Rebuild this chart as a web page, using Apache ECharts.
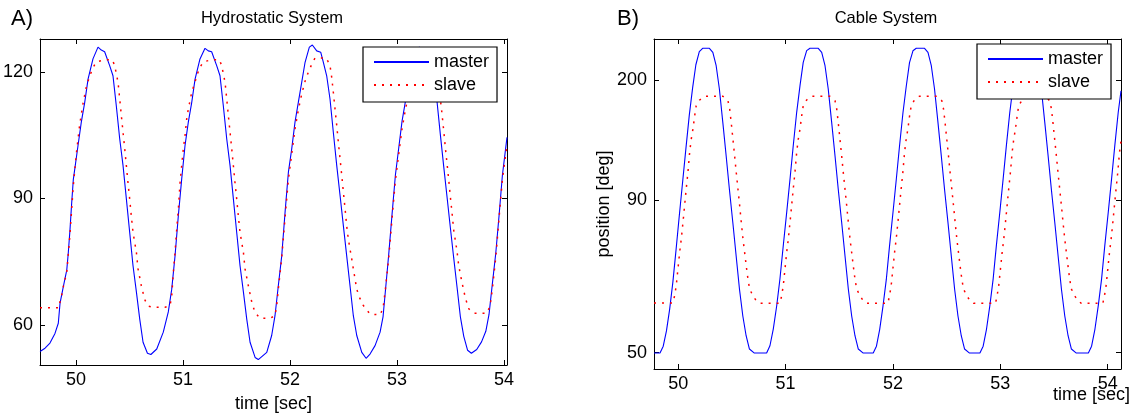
<!DOCTYPE html>
<html>
<head>
<meta charset="utf-8">
<script src="https://cdn.jsdelivr.net/npm/echarts@6.0.0/dist/echarts.min.js"></script>
<style>
html,body{margin:0;padding:0;background:#fff;}
#chart{width:1137px;height:417px;}
</style>
</head>
<body>
<div id="chart"></div>
<script>
// ---------- data ----------
const xTicks = [50, 51, 52, 53, 54];
const yTicksA = [60, 90, 120];
const yLabelsA = ['60', '90', '120'];
const yTicksB = [-50, 90, 200];
const yLabelsB = ['50', '90', '200'];

// Panel A: Hydrostatic System  [time (s), position]
const masterA = [
[49.664,53.7],[49.711,54.5],[49.757,55.7],[49.804,58.0],[49.835,60.4],[49.851,65.1],[49.882,69.1],[49.914,73.0],[49.928,77.0],[49.944,82.5],[49.960,88.9],[49.975,94.4],[50.019,102.5],[50.050,108.1],[50.082,112.8],[50.113,118.3],[50.159,123.1],[50.206,125.9],[50.237,125.2],[50.268,124.8],[50.315,121.5],[50.346,119.1],[50.377,112.0],[50.409,104.1],[50.440,97.8],[50.471,89.9],[50.502,82.0],[50.533,74.1],[50.565,67.8],[50.596,61.4],[50.627,55.9],[50.668,53.3],[50.700,53.0],
[50.755,54.3],[50.816,58.3],[50.863,63.1],[50.895,68.5],[50.926,76.4],[50.957,86.0],[50.988,94.6],[51.019,102.5],[51.050,108.1],[51.082,112.8],[51.113,118.3],[51.159,123.1],[51.206,125.6],[51.237,125.0],[51.268,124.8],[51.315,121.5],[51.346,119.1],[51.377,112.0],[51.409,104.1],[51.440,97.8],[51.471,89.9],[51.502,82.0],[51.533,74.1],[51.565,67.8],[51.596,61.4],[51.627,55.9],[51.674,52.3],[51.704,51.8],
[51.783,53.5],[51.829,57.5],[51.860,62.2],[51.891,69.3],[51.923,76.4],[51.954,86.7],[51.985,96.2],[52.016,101.7],[52.047,108.1],[52.078,112.8],[52.110,117.6],[52.141,122.3],[52.181,125.9],[52.209,126.4],[52.250,125.0],[52.287,124.7],[52.312,122.3],[52.343,119.1],[52.374,113.6],[52.405,105.7],[52.437,97.8],[52.468,90.7],[52.499,83.5],[52.530,76.4],[52.561,69.3],[52.592,62.2],[52.624,57.5],[52.671,53.5],[52.711,52.1],[52.748,53.1],[52.795,55.1],[52.842,58.3],
[52.870,62.0],[52.895,69.0],[52.923,76.8],[52.954,86.3],[52.985,95.5],[53.016,101.9],[53.047,108.3],[53.078,112.9],[53.110,117.8],[53.141,122.0],[53.181,125.3],[53.209,125.9],[53.250,125.0],[53.287,124.5],[53.312,122.0],[53.343,118.8],[53.374,113.0],[53.405,105.2],[53.437,97.5],[53.468,90.3],[53.499,83.0],[53.530,75.9],[53.561,69.0],[53.592,62.0],[53.624,57.3],[53.660,54.0],[53.695,53.3],
[53.745,54.2],[53.790,56.0],[53.830,58.5],[53.860,62.5],[53.890,69.5],[53.923,77.0],[53.954,86.0],[53.985,95.5],[54.016,102.0],[54.028,104.5]
];
const slaveA = [
[49.664,64.1],[49.845,64.1],[49.851,65.5],[49.867,67.1],[49.882,69.1],[49.914,72.5],[49.944,81.5],[49.975,93.0],[50.003,100.5],[50.035,107.5],[50.066,112.5],[50.097,116.5],[50.128,119.0],[50.159,121.0],[50.190,122.4],[50.268,122.9],[50.340,122.9],[50.362,121.5],[50.393,117.6],[50.409,113.6],[50.424,109.7],[50.440,105.7],[50.456,101.7],[50.471,97.8],[50.486,93.8],[50.502,89.9],[50.517,85.9],[50.533,82.0],[50.565,77.2],[50.580,73.3],[50.611,69.3],[50.643,66.0],[50.673,64.5],[50.720,64.2],[50.832,64.2],[50.879,64.6],
[50.895,66.9],[50.910,72.5],[50.926,77.2],[50.942,82.8],[50.957,87.5],[50.973,93.8],[50.988,97.8],[51.003,101.7],[51.019,104.9],[51.035,108.9],[51.050,111.2],[51.082,115.2],[51.113,117.6],[51.128,119.1],[51.159,121.1],[51.190,122.4],[51.268,122.9],[51.340,122.9],[51.362,121.5],[51.393,117.6],[51.409,113.6],[51.424,109.7],[51.440,105.7],[51.456,101.7],[51.471,97.8],[51.486,93.8],[51.502,89.9],[51.517,85.9],[51.533,82.0],[51.565,77.2],[51.580,73.3],[51.611,69.3],[51.643,65.4],[51.673,63.0],[51.720,61.6],[51.813,61.6],[51.860,62.2],[51.876,64.6],
[51.891,68.5],[51.923,76.0],[51.954,85.5],[51.985,94.5],[52.016,100.5],[52.047,106.5],[52.078,111.0],[52.110,114.8],[52.141,117.8],[52.172,120.0],[52.203,121.8],[52.234,123.3],[52.340,123.3],[52.374,121.5],[52.390,118.7],[52.405,115.2],[52.421,111.2],[52.437,107.3],[52.452,103.3],[52.468,99.4],[52.484,95.4],[52.499,91.5],[52.515,87.5],[52.530,83.5],[52.545,80.4],[52.561,78.0],[52.577,75.7],[52.592,73.3],[52.608,70.9],[52.624,68.5],[52.648,66.6],[52.686,64.6],[52.748,62.6],[52.842,62.4],[52.870,64.0],
[52.891,68.3],[52.923,76.0],[52.954,85.3],[52.985,94.3],[53.016,100.5],[53.047,106.5],[53.078,111.0],[53.110,114.8],[53.141,117.8],[53.172,120.0],[53.203,121.8],[53.234,122.8],[53.340,122.8],[53.370,121.0],[53.390,117.6],[53.405,113.6],[53.421,110.0],[53.437,106.0],[53.452,102.0],[53.468,98.2],[53.484,94.3],[53.499,90.3],[53.515,86.4],[53.530,82.5],[53.561,77.5],[53.577,74.0],[53.608,70.0],[53.640,66.3],[53.672,63.8],[53.720,62.8],[53.840,62.8],[53.870,64.5],
[53.891,68.5],[53.923,76.0],[53.954,85.5],[53.985,94.5],[54.016,100.5],[54.028,102.5]
];

// Panel B: Cable System  [time (s), position (deg)]
const masterB = [
[49.774,-50.3],[49.830,-50.3],[49.860,-44.0],[49.890,-30.0],[49.920,-10.0],[49.950,15.0],[49.980,45.0],[50.010,76.0],[50.041,107.0],[50.072,138.0],[50.103,168.0],[50.134,193.0],[50.164,214.0],[50.196,226.0],[50.227,229.1],[50.290,229.1],[50.322,225.4],[50.353,213.1],[50.383,191.8],[50.415,161.2],[50.446,130.6],[50.476,100.1],[50.508,69.6],[50.539,38.9],[50.570,8.4],[50.601,-16.1],[50.632,-34.4],[50.663,-46.6],[50.709,-50.3],[50.823,-50.3],
[50.854,-43.6],[50.885,-28.3],[50.917,-6.9],[50.947,17.6],[50.978,48.1],[51.010,78.7],[51.041,109.3],[51.071,139.8],[51.103,170.4],[51.134,194.8],[51.164,216.2],[51.196,226.9],[51.227,229.1],[51.304,229.1],[51.336,225.4],[51.367,213.1],[51.397,191.8],[51.429,161.2],[51.460,130.6],[51.490,100.1],[51.522,69.6],[51.553,38.9],[51.584,8.4],[51.615,-16.1],[51.646,-34.4],[51.677,-46.6],[51.723,-50.3],[51.816,-50.3],
[51.846,-44.0],[51.876,-28.8],[51.907,-7.2],[51.938,17.2],[51.968,48.0],[52.000,78.5],[52.031,109.0],[52.061,139.5],[52.093,170.0],[52.124,194.5],[52.154,216.0],[52.186,226.8],[52.217,229.1],[52.294,229.1],[52.326,225.4],[52.357,213.1],[52.387,191.8],[52.419,161.2],[52.450,130.6],[52.480,100.1],[52.512,69.6],[52.543,38.9],[52.574,8.4],[52.605,-16.1],[52.636,-34.4],[52.667,-46.6],[52.713,-50.3],[52.810,-50.3],
[52.840,-44.0],[52.871,-28.5],[52.902,-7.0],[52.933,17.5],[52.963,48.2],[52.995,78.6],[53.026,109.2],[53.056,139.6],[53.088,170.2],[53.119,194.6],[53.149,216.1],[53.181,226.8],[53.212,229.1],[53.289,229.1],[53.321,225.4],[53.352,213.1],[53.382,191.8],[53.414,161.2],[53.445,130.6],[53.475,100.1],[53.507,69.6],[53.538,38.9],[53.569,8.4],[53.600,-16.1],[53.631,-34.4],[53.662,-46.6],[53.708,-50.3],[53.820,-50.3],
[53.850,-44.0],[53.881,-28.5],[53.912,-7.0],[53.943,17.5],[53.973,48.2],[54.005,78.6],[54.036,109.2],[54.066,139.6],[54.098,170.2],[54.124,190.0]
];
const slaveB = [
[49.774,-4.5],[49.950,-4.5],[49.966,2.3],[49.981,11.4],[49.997,26.7],[50.013,42.1],[50.028,54.2],[50.044,69.6],[50.059,84.8],[50.074,100.1],[50.090,115.4],[50.106,133.7],[50.121,145.9],[50.137,155.1],[50.153,167.3],[50.167,176.4],[50.199,181.7],[50.246,185.1],[50.416,185.1],[50.463,181.0],[50.479,173.4],[50.493,161.2],[50.509,145.9],[50.525,130.6],[50.540,115.4],[50.556,100.1],[50.572,84.8],[50.587,69.6],[50.603,54.2],[50.618,42.1],[50.633,29.8],[50.649,17.6],[50.665,8.4],[50.695,2.3],[50.726,-2.3],[50.758,-4.7],[50.947,-4.7],
[50.963,2.3],[50.978,11.4],[50.994,26.7],[51.010,42.1],[51.025,54.2],[51.041,69.6],[51.056,84.8],[51.071,100.1],[51.087,115.4],[51.103,133.7],[51.118,145.9],[51.134,155.1],[51.150,167.3],[51.164,176.4],[51.196,181.7],[51.243,185.1],[51.413,185.1],[51.460,181.0],[51.476,173.4],[51.490,161.2],[51.506,145.9],[51.522,130.6],[51.537,115.4],[51.553,100.1],[51.569,84.8],[51.584,69.6],[51.600,54.2],[51.615,42.1],[51.630,29.8],[51.646,17.6],[51.662,8.4],[51.692,2.3],[51.723,-2.3],[51.755,-4.7],[51.952,-4.7],
[51.968,2.3],[51.983,11.4],[51.999,26.7],[52.015,42.1],[52.030,54.2],[52.046,69.6],[52.061,84.8],[52.076,100.1],[52.092,115.4],[52.108,133.7],[52.123,145.9],[52.139,155.1],[52.155,167.3],[52.170,176.4],[52.200,181.7],[52.245,185.1],[52.410,185.1],[52.455,181.0],[52.471,173.4],[52.485,161.2],[52.501,145.9],[52.517,130.6],[52.532,115.4],[52.548,100.1],[52.564,84.8],[52.579,69.6],[52.595,54.2],[52.610,42.1],[52.625,29.8],[52.641,17.6],[52.657,8.4],[52.687,2.3],[52.718,-2.3],[52.750,-4.7],[52.955,-4.7],
[52.970,2.3],[52.985,11.4],[53.001,26.7],[53.017,42.1],[53.032,54.2],[53.048,69.6],[53.063,84.8],[53.078,100.1],[53.094,115.4],[53.110,133.7],[53.125,145.9],[53.141,155.1],[53.157,167.3],[53.171,176.4],[53.203,181.7],[53.250,185.1],[53.415,185.1],[53.460,181.0],[53.476,173.4],[53.490,161.2],[53.506,145.9],[53.522,130.6],[53.537,115.4],[53.553,100.1],[53.569,84.8],[53.584,69.6],[53.600,54.2],[53.615,42.1],[53.630,29.8],[53.646,17.6],[53.662,8.4],[53.692,2.3],[53.723,-2.3],[53.755,-4.7],[53.955,-4.7],
[53.970,2.3],[53.985,11.4],[54.001,26.7],[54.017,42.1],[54.032,54.2],[54.048,69.6],[54.063,84.8],[54.078,100.1],[54.094,115.4],[54.110,133.7],[54.124,144.0]
];

// ---------- chart ----------
const FONT = 'Liberation Sans, Arial, Helvetica, sans-serif';
const chart = echarts.init(document.getElementById('chart'), null, {renderer: 'canvas'});

const axisLineStyle = {show: true, onZero: false, lineStyle: {color: '#000', width: 1}};
function xAxisDef(grid, min, max, pos, withLabels, extra) {
  return Object.assign({
    type: 'value', gridIndex: grid, min: min, max: max, position: pos,
    axisLine: axisLineStyle,
    axisTick: {show: true, inside: true, length: 5, customValues: xTicks, lineStyle: {color: '#000'}},
    axisLabel: withLabels ? {show: true, customValues: xTicks, color: '#000', fontSize: 18, fontFamily: FONT, margin: 6} : {show: false},
    splitLine: {show: false}
  }, extra || {});
}
function yAxisDef(grid, min, max, pos, ticks, labels, withLabels, extra) {
  return Object.assign({
    type: 'value', gridIndex: grid, min: min, max: max, position: pos,
    axisLine: axisLineStyle,
    axisTick: {show: true, inside: true, length: 5, customValues: ticks, lineStyle: {color: '#000'}},
    axisLabel: withLabels ? {show: true, customValues: ticks, color: '#000', fontSize: 18, fontFamily: FONT, margin: 7,
      formatter: function (v) { const i = ticks.indexOf(v); return i >= 0 ? labels[i] : ''; }} : {show: false},
    splitLine: {show: false}
  }, extra || {});
}

const legendBase = {
  orient: 'vertical', padding: [6, 8, 8, 10], itemGap: 5, itemWidth: 55, itemHeight: 20,
  borderColor: '#000', borderWidth: 1.2, backgroundColor: '#fff', borderRadius: 0,
  textStyle: {fontSize: 18, color: '#000', fontFamily: FONT},
  itemStyle: {opacity: 0},
  data: ['master', 'slave'], selectedMode: false
};

const titleText = {fontWeight: 'normal', color: '#000', fontFamily: FONT};
const option = {
  animation: false,
  backgroundColor: '#fff',
  title: [
    {text: 'A)', left: 11, top: 8, padding: 0, textStyle: Object.assign({fontSize: 22}, titleText)},
    {text: 'B)', left: 617, top: 8, padding: 0, textStyle: Object.assign({fontSize: 22}, titleText)},
    {text: 'Hydrostatic System', left: 272, top: 10, padding: 0, textAlign: 'center', textStyle: Object.assign({fontSize: 16.5}, titleText)},
    {text: 'Cable System', left: 886, top: 10, padding: 0, textAlign: 'center', textStyle: Object.assign({fontSize: 16.5}, titleText)},
    // x-axis name of panel B, placed at the lower right corner as in the reference
    {text: 'time [sec]', left: 1053, top: 386, padding: 0, textStyle: Object.assign({fontSize: 18}, titleText)}
  ],
  legend: [
    Object.assign({}, legendBase, {left: 363, top: 47}),
    Object.assign({}, legendBase, {left: 977, top: 44})
  ],
  grid: [
    {left: 40, top: 39, width: 467, height: 326, show: false, containLabel: false, outerBoundsMode: 'none'},
    {left: 654, top: 39, width: 467, height: 330, show: false, containLabel: false, outerBoundsMode: 'none'}
  ],
  xAxis: [
    xAxisDef(0, 49.664, 54.028, 'bottom', true, {name: 'time [sec]', nameLocation: 'middle', nameGap: 30,
      nameTextStyle: {fontSize: 18, color: '#000', fontFamily: FONT}}),
    xAxisDef(0, 49.664, 54.028, 'top', false),
    xAxisDef(1, 49.774, 54.124, 'bottom', true),
    xAxisDef(1, 49.774, 54.124, 'top', false)
  ],
  yAxis: [
    yAxisDef(0, 50.51, 127.82, 'left', yTicksA, yLabelsA, true),
    yAxisDef(0, 50.51, 127.82, 'right', yTicksA, yLabelsA, false),
    yAxisDef(1, -64.9, 237.6, 'left', yTicksB, yLabelsB, true, {name: 'position [deg]', nameLocation: 'middle', nameGap: 40,
      nameTextStyle: {fontSize: 18, color: '#000', fontFamily: FONT}}),
    yAxisDef(1, -64.9, 237.6, 'right', yTicksB, yLabelsB, false)
  ],
  series: [
    {name: 'master', type: 'line', xAxisIndex: 0, yAxisIndex: 0, data: masterA, showSymbol: false, symbol: 'none',
      lineStyle: {color: '#0000ff', width: 1.1}, itemStyle: {color: '#0000ff'}, z: 2},
    {name: 'slave', type: 'line', xAxisIndex: 0, yAxisIndex: 0, data: slaveA, showSymbol: false, symbol: 'none',
      lineStyle: {color: '#ff0000', width: 1.5, type: [2, 6]}, itemStyle: {color: '#ff0000'}, z: 3},
    {name: 'master', type: 'line', xAxisIndex: 2, yAxisIndex: 2, data: masterB, showSymbol: false, symbol: 'none',
      lineStyle: {color: '#0000ff', width: 1.1}, itemStyle: {color: '#0000ff'}, z: 2},
    {name: 'slave', type: 'line', xAxisIndex: 2, yAxisIndex: 2, data: slaveB, showSymbol: false, symbol: 'none',
      lineStyle: {color: '#ff0000', width: 1.5, type: [2, 6]}, itemStyle: {color: '#ff0000'}, z: 3}
  ]
};
chart.setOption(option);
</script>
</body>
</html>
